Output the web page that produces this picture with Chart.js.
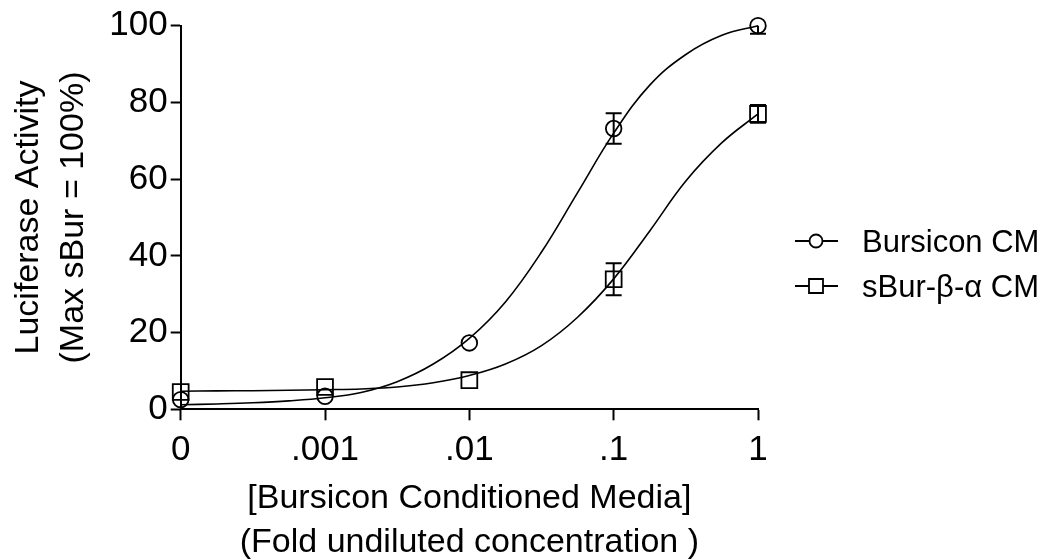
<!DOCTYPE html>
<html>
<head>
<meta charset="utf-8">
<script src="https://cdn.jsdelivr.net/npm/chart.js@4.4.1/dist/chart.umd.min.js"></script>
<style>
  body { margin: 0; background: #fff; }
  #wrap { width: 1053px; height: 560px; }
</style>
</head>
<body>
<div id="wrap"><canvas id="chart" width="1053" height="560"></canvas></div>
<script>
// concentrations are log10 of fold undiluted; the "0" dose sits at 1e-4
const doseLog = [-4, -3, -2, -1, 0];
const doseLabels = ['0', '.001', '.01', '.1', '1'];

const bursiconMean = [2.5, 3.4, 17.3, 73.2, 100];
const bursiconErr = [0, 0, 0, 4.0, 2.1];
const sburMean = [4.5, 5.8, 7.6, 33.9, 77.0];
const sburErr = [0, 0, 0, 4.2, 2.3];

// fitted curves
const fitLog = [-4, -3.75, -3.5, -3.25, -3, -2.75, -2.5, -2.25, -2, -1.75, -1.5, -1.25, -1, -0.75, -0.5, -0.25, 0];
const bursiconFit = [1.2, 1.4, 1.7, 2.2, 3.0, 4.4, 7.2, 11.8, 18.5, 28, 41, 56.5, 72, 84.5, 92.5, 97.5, 100];
const sburFit = [4.7, 4.8, 4.85, 4.95, 5.1, 5.3, 5.8, 6.9, 8.8, 11.8, 16.6, 24, 34, 46.5, 59.5, 69.5, 77];

const seriesNames = ['Bursicon CM', 'sBur-\u03B2-\u03B1 CM'];

const FONT = "'Liberation Sans', Arial, sans-serif";
Chart.defaults.font.family = FONT;
Chart.defaults.color = '#000';

const toXY = (xs, ys) => xs.map((x, i) => ({ x, y: ys[i] }));

const errorBars = {
  id: 'errorBars',
  afterDatasetsDraw(chart) {
    const { ctx, chartArea, scales: { x, y } } = chart;
    ctx.save();
    ctx.beginPath();
    ctx.rect(chartArea.left - 20, chartArea.top, chartArea.right - chartArea.left + 40, chartArea.bottom - chartArea.top + 20);
    ctx.clip();
    ctx.strokeStyle = '#000';
    ctx.lineWidth = 2;
    [[bursiconMean, bursiconErr], [sburMean, sburErr]].forEach(([mean, err]) => {
      mean.forEach((m, i) => {
        if (!err[i]) return;
        const px = x.getPixelForValue(doseLog[i]);
        const top = y.getPixelForValue(m + err[i]);
        const bot = y.getPixelForValue(m - err[i]);
        ctx.beginPath();
        ctx.moveTo(px, top); ctx.lineTo(px, bot);
        ctx.moveTo(px - 8, top); ctx.lineTo(px + 8, top);
        ctx.moveTo(px - 8, bot); ctx.lineTo(px + 8, bot);
        ctx.stroke();
      });
    });
    ctx.restore();
  }
};

// legend with line-through-marker symbols like the original
const sideLegend = {
  id: 'sideLegend',
  afterDraw(chart) {
    const ctx = chart.ctx;
    const rows = [241, 286];
    ctx.save();
    ctx.strokeStyle = '#000';
    ctx.fillStyle = '#000';
    ctx.lineWidth = 1.8;
    rows.forEach((yy, i) => {
      ctx.beginPath();
      ctx.moveTo(795, yy); ctx.lineTo(809, yy);
      ctx.moveTo(823, yy); ctx.lineTo(838, yy);
      ctx.stroke();
      ctx.beginPath();
      if (i === 0) ctx.arc(816, yy, 6.5, 0, Math.PI * 2);
      else ctx.rect(809, yy - 7, 14, 14);
      ctx.stroke();
      ctx.font = '31px ' + FONT;
      ctx.textBaseline = 'middle';
      ctx.fillText(seriesNames[i], 862, yy + 2);
    });
    ctx.restore();
  }
};

new Chart(document.getElementById('chart'), {
  type: 'scatter',
  data: {
    datasets: [
      {
        type: 'line',
        data: toXY(fitLog, bursiconFit),
        borderColor: '#000',
        borderWidth: 1.6,
        pointRadius: 0,
        tension: 0.4,
        clip: false
      },
      {
        type: 'line',
        data: toXY(fitLog, sburFit),
        borderColor: '#000',
        borderWidth: 1.6,
        pointRadius: 0,
        tension: 0.4,
        clip: false
      },
      {
        label: seriesNames[0],
        data: toXY(doseLog, bursiconMean),
        pointStyle: 'circle',
        pointRadius: 7.8,
        borderColor: '#000',
        borderWidth: 1.8,
        backgroundColor: 'rgba(0,0,0,0)',
        clip: false
      },
      {
        label: seriesNames[1],
        data: toXY(doseLog, sburMean),
        pointStyle: 'rect',
        pointRadius: 11.2,
        borderColor: '#000',
        borderWidth: 1.8,
        backgroundColor: 'rgba(0,0,0,0)',
        clip: false
      }
    ]
  },
  options: {
    responsive: false,
    animation: false,
    events: [],
    layout: { padding: { top: 25.7, right: 295, left: 0, bottom: 0 } },
    plugins: {
      legend: { display: false },
      tooltip: { enabled: false }
    },
    scales: {
      x: {
        type: 'linear',
        min: -4,
        max: 0,
        afterFit: s => { s.height = 150.7; },
        grid: { drawOnChartArea: false, tickLength: 11, tickWidth: 2, tickColor: '#000' },
        border: { color: '#000', width: 2 },
        ticks: {
          stepSize: 1,
          padding: 9,
          font: { size: 35 },
          color: '#000',
          maxRotation: 0,
          callback: v => doseLabels[doseLog.indexOf(v)]
        },
        title: {
          display: true,
          text: ['[Bursicon Conditioned Media]', '(Fold undiluted concentration )'],
          font: { size: 34, lineHeight: 1.3 },
          color: '#000',
          padding: { top: 0, bottom: -5 }
        }
      },
      y: {
        min: 0,
        max: 100,
        afterFit: s => { s.width = 180.7; },
        grid: { drawOnChartArea: false, tickLength: 10, tickWidth: 2, tickColor: '#000' },
        border: { color: '#000', width: 2 },
        ticks: { stepSize: 20, padding: 3, font: { size: 35 }, color: '#000' },
        title: {
          display: true,
          text: ['Luciferase Activity', '(Max sBur = 100%)'],
          font: { size: 34, lineHeight: 1.3 },
          color: '#000',
          padding: { top: 7, bottom: 0 }
        }
      }
    }
  },
  plugins: [errorBars, sideLegend]
});
</script>
</body>
</html>
